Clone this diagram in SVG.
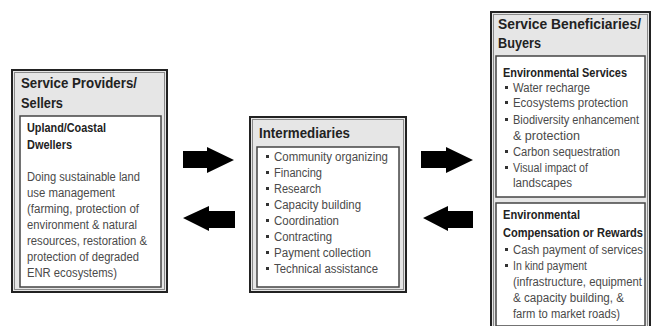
<svg xmlns="http://www.w3.org/2000/svg" width="656" height="326" viewBox="0 0 656 326">
<style>
.outer{fill:#e6e6e6;stroke:#222;stroke-width:2}
.outer2{fill:none;stroke:#8a8a8a;stroke-width:1}
.inner{fill:#fff;stroke:#444;stroke-width:1.5}
.h1{font-family:"Liberation Sans",Arial,sans-serif;font-weight:bold;font-size:15px;fill:#222}
.h2{font-family:"Liberation Sans",Arial,sans-serif;font-weight:bold;font-size:12px;fill:#222}
.t{font-family:"Liberation Sans",Arial,sans-serif;font-size:12px;fill:#4a4a4a}
.b{fill:#333}
.arr{fill:#000}
</style>
<rect width="656" height="326" fill="#fff"/>
<g id="providers">
<rect class="outer" x="12" y="70" width="155" height="222"/>
<rect class="outer2" x="14.5" y="72.5" width="150" height="217"/>
<text class="h1" x="21" y="88" textLength="116" lengthAdjust="spacingAndGlyphs">Service Providers/</text>
<text class="h1" x="21" y="108" textLength="42" lengthAdjust="spacingAndGlyphs">Sellers</text>
<rect class="inner" x="20" y="116" width="141" height="171"/>
<text class="h2" x="27" y="132" textLength="79" lengthAdjust="spacingAndGlyphs">Upland/Coastal</text>
<text class="h2" x="27" y="149" textLength="45" lengthAdjust="spacingAndGlyphs">Dwellers</text>
<text class="t" x="27" y="181" textLength="113" lengthAdjust="spacingAndGlyphs">Doing sustainable land</text>
<text class="t" x="27" y="197" textLength="88" lengthAdjust="spacingAndGlyphs">use management</text>
<text class="t" x="27" y="213" textLength="112" lengthAdjust="spacingAndGlyphs">(farming, protection of</text>
<text class="t" x="27" y="229" textLength="110" lengthAdjust="spacingAndGlyphs">environment &amp; natural</text>
<text class="t" x="27" y="245" textLength="120" lengthAdjust="spacingAndGlyphs">resources, restoration &amp;</text>
<text class="t" x="27" y="261" textLength="112" lengthAdjust="spacingAndGlyphs">protection of degraded</text>
<text class="t" x="27" y="277" textLength="90" lengthAdjust="spacingAndGlyphs">ENR ecosystems)</text>
</g>
<g id="intermediaries">
<rect class="outer" x="250" y="117" width="156" height="175"/>
<rect class="outer2" x="252.5" y="119.5" width="151" height="170"/>
<text class="h1" x="259" y="138" textLength="91" lengthAdjust="spacingAndGlyphs">Intermediaries</text>
<rect class="inner" x="257" y="147" width="142" height="140"/>
<g class="b">
<rect x="266" y="155" width="3" height="3"/><rect x="266" y="171" width="3" height="3"/><rect x="266" y="187" width="3" height="3"/><rect x="266" y="203" width="3" height="3"/><rect x="266" y="219" width="3" height="3"/><rect x="266" y="235" width="3" height="3"/><rect x="266" y="251" width="3" height="3"/><rect x="266" y="267" width="3" height="3"/>
</g>
<text class="t" x="274" y="161" textLength="114" lengthAdjust="spacingAndGlyphs">Community organizing</text>
<text class="t" x="274" y="177" textLength="48" lengthAdjust="spacingAndGlyphs">Financing</text>
<text class="t" x="274" y="193" textLength="47" lengthAdjust="spacingAndGlyphs">Research</text>
<text class="t" x="274" y="209" textLength="87" lengthAdjust="spacingAndGlyphs">Capacity building</text>
<text class="t" x="274" y="225" textLength="65" lengthAdjust="spacingAndGlyphs">Coordination</text>
<text class="t" x="274" y="241" textLength="58" lengthAdjust="spacingAndGlyphs">Contracting</text>
<text class="t" x="274" y="257" textLength="97" lengthAdjust="spacingAndGlyphs">Payment collection</text>
<text class="t" x="274" y="273" textLength="104" lengthAdjust="spacingAndGlyphs">Technical assistance</text>
</g>
<g id="beneficiaries">
<rect class="outer" x="491" y="12" width="159" height="320"/>
<rect class="outer2" x="493.5" y="14.5" width="154" height="315"/>
<text class="h1" x="498" y="29" textLength="143" lengthAdjust="spacingAndGlyphs">Service Beneficiaries/</text>
<text class="h1" x="498" y="48" textLength="43" lengthAdjust="spacingAndGlyphs">Buyers</text>
<rect class="inner" x="496" y="56" width="149" height="141"/>
<text class="h2" x="503" y="77" textLength="124" lengthAdjust="spacingAndGlyphs">Environmental Services</text>
<g class="b">
<rect x="505" y="86" width="3" height="3"/><rect x="505" y="101" width="3" height="3"/><rect x="505" y="118" width="3" height="3"/><rect x="505" y="150" width="3" height="3"/><rect x="505" y="166" width="3" height="3"/>
</g>
<text class="t" x="513" y="92" textLength="77" lengthAdjust="spacingAndGlyphs">Water recharge</text>
<text class="t" x="513" y="107" textLength="115" lengthAdjust="spacingAndGlyphs">Ecosystems protection</text>
<text class="t" x="513" y="124" textLength="126" lengthAdjust="spacingAndGlyphs">Biodiversity enhancement</text>
<text class="t" x="513" y="140" textLength="67" lengthAdjust="spacingAndGlyphs">&amp; protection</text>
<text class="t" x="513" y="156" textLength="107" lengthAdjust="spacingAndGlyphs">Carbon sequestration</text>
<text class="t" x="513" y="172" textLength="75" lengthAdjust="spacingAndGlyphs">Visual impact of</text>
<text class="t" x="513" y="187" textLength="59" lengthAdjust="spacingAndGlyphs">landscapes</text>
<rect class="inner" x="496" y="203" width="149" height="123"/>
<text class="h2" x="503" y="219" textLength="77" lengthAdjust="spacingAndGlyphs">Environmental</text>
<text class="h2" x="503" y="237" textLength="140" lengthAdjust="spacingAndGlyphs">Compensation or Rewards</text>
<g class="b">
<rect x="505" y="248" width="3" height="3"/><rect x="505" y="264" width="3" height="3"/>
</g>
<text class="t" x="513" y="254" textLength="130" lengthAdjust="spacingAndGlyphs">Cash payment of services</text>
<text class="t" x="513" y="270" textLength="74" lengthAdjust="spacingAndGlyphs">In kind payment</text>
<text class="t" x="513" y="286" textLength="129" lengthAdjust="spacingAndGlyphs">(infrastructure, equipment</text>
<text class="t" x="513" y="302" textLength="111" lengthAdjust="spacingAndGlyphs">&amp; capacity building, &amp;</text>
<text class="t" x="513" y="318" textLength="107" lengthAdjust="spacingAndGlyphs">farm to market roads)</text>
</g>
<g id="connectors">
<polygon class="arr" points="183,151 207,151 207,147 234,160 207,173 207,168 183,168"/>
<polygon class="arr" points="235,211 209,211 209,206 183,218 209,231 209,228 235,228"/>
<polygon class="arr" points="421,151 446,151 446,147 473,160 446,173 446,168 421,168"/>
<polygon class="arr" points="473,211 448,211 448,206 423,218 448,231 448,228 473,228"/>
</g>
</svg>
